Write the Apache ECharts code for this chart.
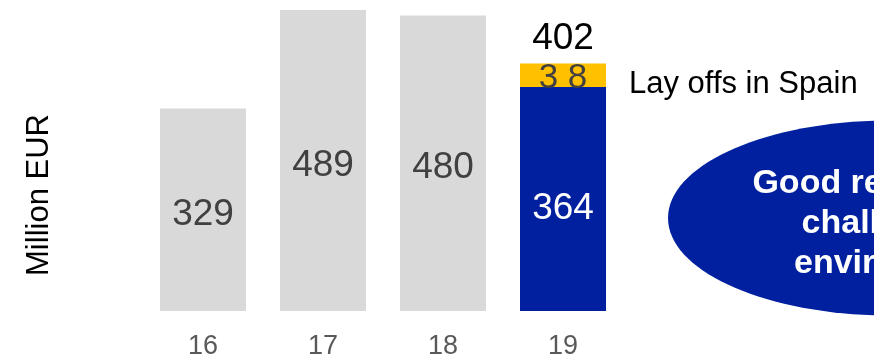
<!DOCTYPE html>
<html>
<head>
<meta charset="utf-8">
<script src="https://cdn.jsdelivr.net/npm/echarts@6/dist/echarts.min.js"></script>
<style>html,body{margin:0;padding:0;background:#fff}#c{width:874px;height:360px}</style>
</head>
<body>
<div id="c"></div>
<script>
const categories = ['16', '17', '18', '19'];
const baseValues = [329, 489, 480, 364];
const layoffValues = [null, null, null, 38];
const totalValues = [null, null, null, 402];
const layoffName = 'Lay offs in Spain';
const yAxisName = 'Million EUR';
const calloutLines = ['Good results in a ', 'challenging', 'environment'];

const FONT = '"Liberation Sans", Arial, sans-serif';
const GREY = '#d9d9d9', BLUE = '#00209f', ORANGE = '#ffc000';

const chart = echarts.init(document.getElementById('c'));
const lastIdx = categories.length - 1;

chart.setOption({
  animation: false,
  grid: { left: 143, right: 251, top: 3.25, bottom: 49 },
  xAxis: {
    type: 'category', data: categories,
    axisLine: { show: false }, axisTick: { show: false },
    axisLabel: { color: '#595959', fontSize: 27, fontFamily: FONT, margin: 22 }
  },
  yAxis: {
    type: 'value', min: 0, max: 500,
    axisLine: { show: false }, axisTick: { show: false },
    axisLabel: { show: false }, splitLine: { show: false }
  },
  series: [
    {
      type: 'bar', stack: 's', barWidth: 86,
      data: baseValues.map((v, i) => ({
        value: v,
        itemStyle: { color: i === lastIdx ? BLUE : GREY },
        label: { color: i === lastIdx ? '#ffffff' : '#404040', offset: [0, i === lastIdx ? 10 : 5] }
      })),
      label: { show: true, position: 'inside', fontSize: 37, fontFamily: FONT }
    },
    {
      type: 'bar', stack: 's', barWidth: 86, name: layoffName,
      itemStyle: { color: ORANGE },
      data: layoffValues,
      label: {
        show: true, position: 'inside', fontSize: 35, fontFamily: FONT, color: '#404040', offset: [0, 3],
        formatter: p => String(p.value).split('').join(' ')
      },
      markPoint: {
        symbol: 'circle', symbolSize: 0,
        data: [{
          coord: [categories[lastIdx], baseValues[lastIdx] + layoffValues[lastIdx] / 2],
          label: {
            show: true, position: 'right', distance: 66, offset: [0, 9],
            formatter: layoffName, fontSize: 31, fontFamily: FONT, color: '#000'
          }
        }]
      }
    },
    {
      type: 'bar', stack: 's', barWidth: 86,
      data: totalValues.map(v => (v == null ? null : 0)),
      label: {
        show: true, position: 'top', distance: 6, fontSize: 37, fontFamily: FONT, color: '#000',
        formatter: p => totalValues[p.dataIndex]
      }
    }
  ],
  graphic: [
    {
      type: 'text', x: 39, y: 195, rotation: Math.PI / 2,
      style: { text: yAxisName, fontSize: 31, fontFamily: FONT, fill: '#000', align: 'center', verticalAlign: 'middle' }
    },
    {
      type: 'ellipse', shape: { cx: 890, cy: 218, rx: 222, ry: 97.5 },
      style: { fill: BLUE }
    },
    {
      type: 'text', x: 896, y: 224,
      style: {
        text: calloutLines.join('\n'), fontSize: 34, fontWeight: 'bold', fontFamily: FONT,
        fill: '#fff', align: 'center', verticalAlign: 'middle', lineHeight: 40
      }
    }
  ]
});
</script>
</body>
</html>
